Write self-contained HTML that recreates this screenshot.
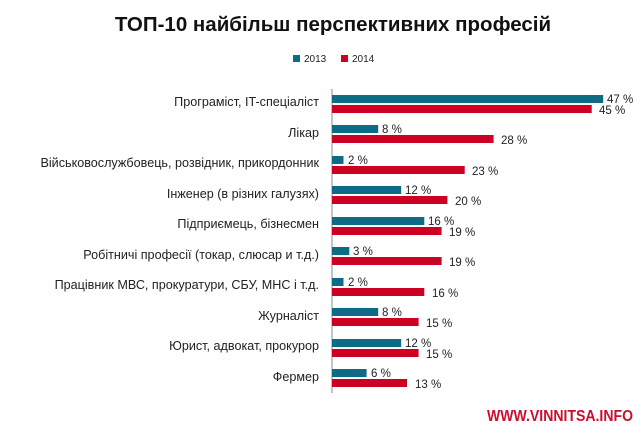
<!DOCTYPE html>
<html><head><meta charset="utf-8"><style>
body{margin:0;background:#fff;}
svg text{font-family:"Liberation Sans",sans-serif;}
</style></head><body>
<svg width="644" height="429" xmlns="http://www.w3.org/2000/svg">
<rect width="644" height="429" fill="#fff"/>
<text x="333" y="31" text-anchor="middle" font-size="20.5" font-weight="bold" fill="#111">ТОП-10 найбільш перспективних професій</text>
<rect x="293" y="55" width="7" height="7" fill="#0e6b86"/>
<text x="304" y="62" font-size="10" fill="#222">2013</text>
<rect x="341" y="55" width="7" height="7" fill="#cc0022"/>
<text x="352" y="62" font-size="10" fill="#222">2014</text>
<line x1="332" y1="89" x2="332" y2="393" stroke="#888" stroke-width="1"/>
<g font-size="11.5" fill="#222">
<g fill="#0e6b86">
<rect x="332" y="95" width="271.2" height="8"/>
<rect x="332" y="125" width="46.2" height="8"/>
<rect x="332" y="156" width="11.5" height="8"/>
<rect x="332" y="186" width="69.2" height="8"/>
<rect x="332" y="217" width="92.3" height="8"/>
<rect x="332" y="247" width="17.3" height="8"/>
<rect x="332" y="278" width="11.5" height="8"/>
<rect x="332" y="308" width="46.2" height="8"/>
<rect x="332" y="339" width="69.2" height="8"/>
<rect x="332" y="369" width="34.6" height="8"/>
</g>
<g fill="#cc0022">
<rect x="332" y="105" width="259.7" height="8"/>
<rect x="332" y="135" width="161.6" height="8"/>
<rect x="332" y="166" width="132.7" height="8"/>
<rect x="332" y="196" width="115.4" height="8"/>
<rect x="332" y="227" width="109.6" height="8"/>
<rect x="332" y="257" width="109.6" height="8"/>
<rect x="332" y="288" width="92.3" height="8"/>
<rect x="332" y="318" width="86.6" height="8"/>
<rect x="332" y="349" width="86.6" height="8"/>
<rect x="332" y="379" width="75.0" height="8"/>
</g>
<g text-anchor="end" font-size="12.6">
<text x="319" y="106">Програміст, IT-спеціаліст</text>
<text x="319" y="137">Лікар</text>
<text x="319" y="167">Військовослужбовець, розвідник, прикордонник</text>
<text x="319" y="198">Інженер (в різних галузях)</text>
<text x="319" y="228">Підприємець, бізнесмен</text>
<text x="319" y="259">Робітничі професії (токар, слюсар и т.д.)</text>
<text x="319" y="289">Працівник МВС, прокуратури, СБУ, МНС і т.д.</text>
<text x="319" y="320">Журналіст</text>
<text x="319" y="350">Юрист, адвокат, прокурор</text>
<text x="319" y="381">Фермер</text>
</g>
<text x="607" y="103">47 %</text>
<text x="382" y="133">8 %</text>
<text x="348" y="164">2 %</text>
<text x="405" y="194">12 %</text>
<text x="428" y="225">16 %</text>
<text x="353" y="255">3 %</text>
<text x="348" y="286">2 %</text>
<text x="382" y="316">8 %</text>
<text x="405" y="347">12 %</text>
<text x="371" y="377">6 %</text>
<text x="599" y="114">45 %</text>
<text x="501" y="144">28 %</text>
<text x="472" y="175">23 %</text>
<text x="455" y="205">20 %</text>
<text x="449" y="236">19 %</text>
<text x="449" y="266">19 %</text>
<text x="432" y="297">16 %</text>
<text x="426" y="327">15 %</text>
<text x="426" y="358">15 %</text>
<text x="415" y="388">13 %</text>
</g>
<text x="487" y="421" font-size="16" font-weight="bold" fill="#c8102e" textLength="146" lengthAdjust="spacingAndGlyphs">WWW.VINNITSA.INFO</text>
</svg>
</body></html>
